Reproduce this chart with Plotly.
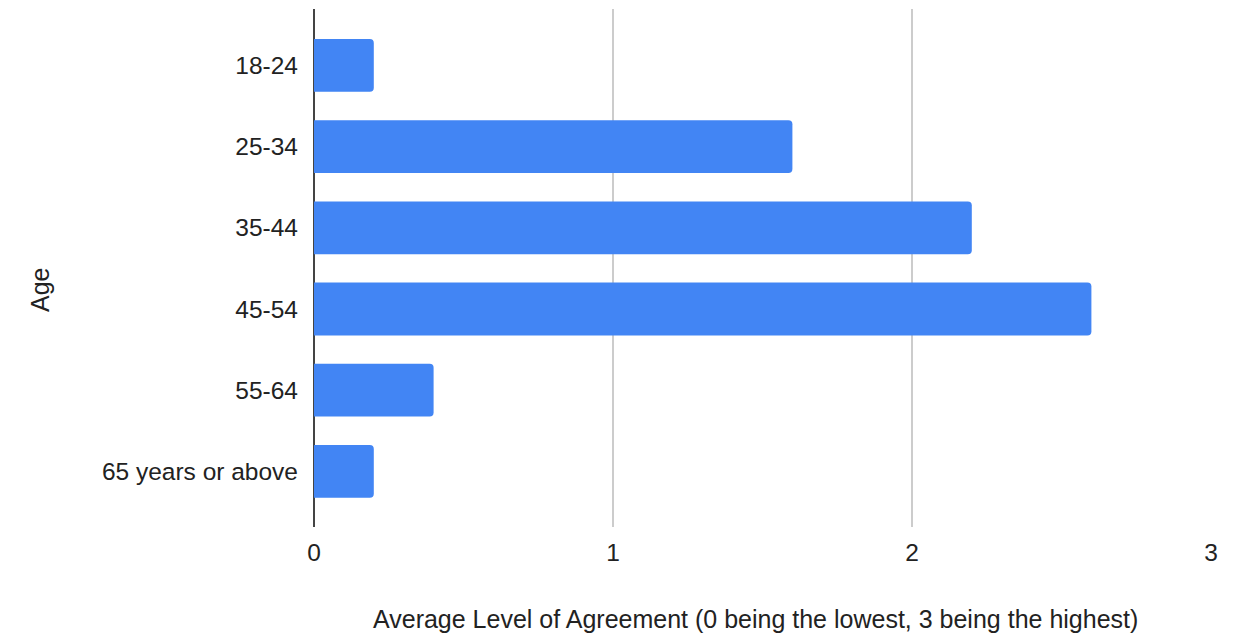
import plotly.graph_objects as go

categories = ["18-24", "25-34", "35-44", "45-54", "55-64", "65 years or above"]
values = [0.2, 1.6, 2.2, 2.6, 0.4, 0.2]
x_ticks = [0, 1, 2, 3]
x_title = "Average Level of Agreement (0 being the lowest, 3 being the highest)"
y_title = "Age"

FONT = "Liberation Sans, Arial, sans-serif"
TICK_SIZE = 24.5
TITLE_SIZE = 25

fig = go.Figure(go.Bar(
    x=values, y=categories, orientation="h",
    marker=dict(color="#4285F4", cornerradius=4, line=dict(width=0)),
    hoverinfo="x+y",
))

W, H = 1242, 640
L, R, T, B = 314, 31, 9, 113
pw, ph = W - L - R, H - T - B

fig.update_layout(
    width=W, height=H,
    margin=dict(l=L, r=R, t=T, b=B, pad=0),
    paper_bgcolor="white", plot_bgcolor="white",
    font=dict(family=FONT, size=TICK_SIZE, color="#222222"),
    bargap=0.35,
    showlegend=False,
    xaxis=dict(
        range=[0, 3], tickvals=x_ticks, ticktext=[str(v) for v in x_ticks],
        showgrid=True, gridcolor="#cccccc", gridwidth=1.5,
        zeroline=True, zerolinecolor="#444444", zerolinewidth=2,
        showline=False, ticks="", ticklabelstandoff=8,
        tickfont=dict(family=FONT, size=TICK_SIZE, color="#222222"),
        fixedrange=True,
    ),
    yaxis=dict(
        type="category", categoryorder="array", categoryarray=categories,
        range=[5.685, -0.695],
        showgrid=False, zeroline=False, showline=False, ticks="",
        ticklabelstandoff=15,
        tickfont=dict(family=FONT, size=TICK_SIZE, color="#222222"),
        fixedrange=True,
    ),
    annotations=[
        dict(text=x_title, xref="paper", yref="paper",
             x=(755 - L) / pw, y=(527 - 619) / ph,
             xanchor="center", yanchor="middle", showarrow=False,
             font=dict(family=FONT, size=TITLE_SIZE, color="#222222")),
        dict(text=y_title, xref="paper", yref="paper",
             x=(40 - L) / pw, y=(527 - 290) / ph, textangle=-90,
             xanchor="center", yanchor="middle", showarrow=False,
             font=dict(family=FONT, size=TITLE_SIZE, color="#222222")),
    ],
)

fig.write_html("out.html")
